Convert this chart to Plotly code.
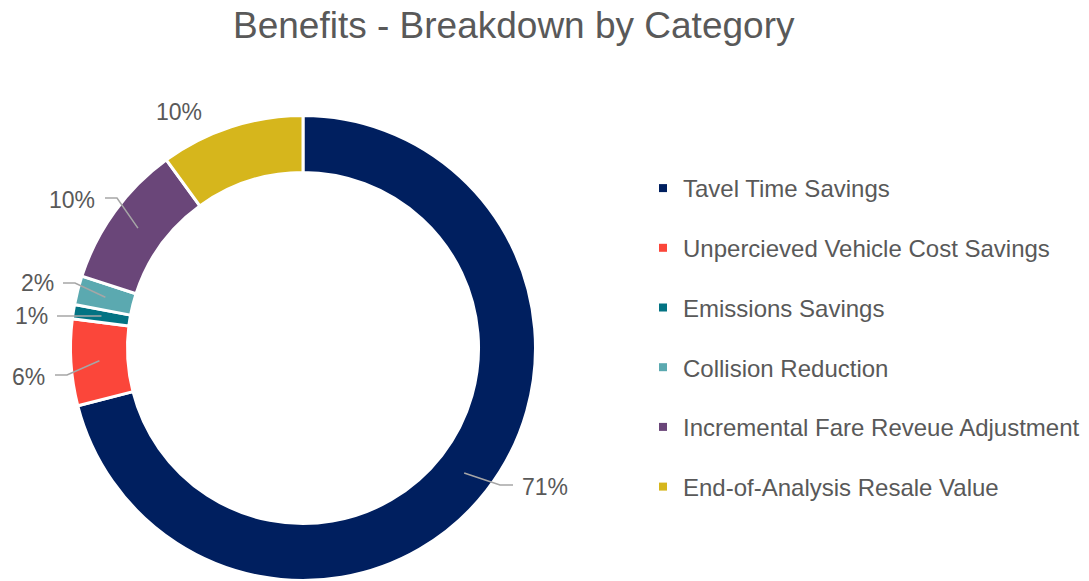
import math
import plotly.graph_objects as go

categories = ["Tavel Time Savings", "Unpercieved Vehicle Cost Savings", "Emissions Savings",
              "Collision Reduction", "Incremental Fare Reveue Adjustment", "End-of-Analysis Resale Value"]
values = [71, 6, 1, 2, 10, 10]
colors = ["#001F5F", "#FB463A", "#037383", "#5BA9B0", "#6A4679", "#D6B61C"]
label_text = [f"{v}%" for v in values]

W, H = 1089, 581
FONT = "Arial, Liberation Sans, sans-serif"
GREY = "#595959"

# pie geometry (pixels)
cx, cy, R = 303, 348, 232.5
hole = 0.755
r_mid = R * (1 + hole) / 2

def px(x):
    return x / W

def py(y):
    return 1 - y / H

fig = go.Figure()
fig.add_trace(go.Pie(
    labels=categories, values=values, sort=False, direction="clockwise", rotation=0,
    hole=hole, marker=dict(colors=colors, line=dict(color="white", width=3)),
    textinfo="none", hoverinfo="label+percent", showlegend=False,
    domain=dict(x=[px(cx - R), px(cx + R)], y=[py(cy + R), py(cy - R)]),
))

# legend entries via dummy traces so the spacing can be controlled
for i, (c, col) in enumerate(zip(categories, colors)):
    fig.add_trace(go.Scatter(x=[None], y=[None], mode="markers", name=c,
                             marker=dict(symbol="square", size=8, color=col),
                             legendgroup=f"g{i}", showlegend=True))

# label placement (style): text centre, elbow, line end in pixels; None = no leader
label_layout = [
    dict(text=(545, 487), elbow=(500, 485), end=(513, 485)),
    dict(text=(28, 377), elbow=(67, 375), end=(55, 375)),
    dict(text=(31, 316), elbow=(70, 316), end=(57, 316)),
    dict(text=(37, 283), elbow=(75, 283), end=(63, 283)),
    dict(text=(72, 200), elbow=(117, 198), end=(105, 198)),
    dict(text=(179, 112), elbow=None, end=None),
]

total = sum(values)
cum = 0
shapes = []
annotations = []
for v, t, lay in zip(values, label_text, label_layout):
    mid = (cum + v / 2) / total * 2 * math.pi
    cum += v
    tipx = cx + r_mid * math.sin(mid)
    tipy = cy - r_mid * math.cos(mid)
    if lay["elbow"] is not None:
        ex, ey = lay["elbow"]
        lx, ly = lay["end"]
        path = f"M {px(tipx)},{py(tipy)} L {px(ex)},{py(ey)} L {px(lx)},{py(ly)}"
        shapes.append(dict(type="path", path=path, xref="paper", yref="paper",
                           line=dict(color="#A6A6A6", width=1.5), layer="above"))
    tx, ty = lay["text"]
    annotations.append(dict(x=px(tx), y=py(ty), xref="paper", yref="paper", text=t,
                            showarrow=False, xanchor="center", yanchor="middle",
                            font=dict(family=FONT, size=23, color=GREY)))

annotations.append(dict(x=px(514), y=py(25), xref="paper", yref="paper",
                        text="Benefits - Breakdown by Category", showarrow=False,
                        xanchor="center", yanchor="middle",
                        font=dict(family=FONT, size=37, color=GREY)))

fig.update_layout(
    width=W, height=H, margin=dict(l=0, r=0, t=0, b=0),
    paper_bgcolor="white", plot_bgcolor="white",
    xaxis=dict(visible=False), yaxis=dict(visible=False),
    shapes=shapes, annotations=annotations,
    legend=dict(x=px(643), y=py(166), xanchor="left", yanchor="top",
                font=dict(family=FONT, size=24, color=GREY),
                tracegroupgap=25.5, itemwidth=30, bgcolor="rgba(0,0,0,0)"),
)

fig.write_html("out.html", config=dict(displayModeBar=False))
